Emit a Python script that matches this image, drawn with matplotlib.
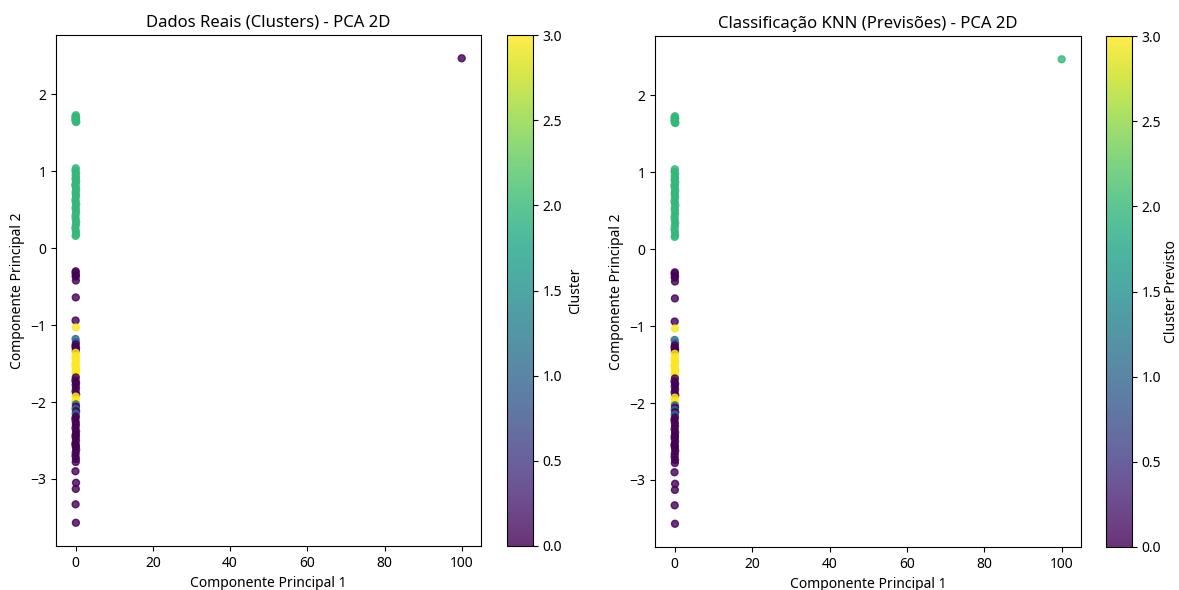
import numpy as np
import matplotlib
matplotlib.use("Agg")
import matplotlib.pyplot as plt

plt.rcParams['font.family'] = ['Noto Sans', 'DejaVu Sans']

# PCA projection of the samples (component 1, component 2)
pc1 = [
    0.05, -0.08, 0.12, 0.02, -0.05, 0.09, 0.0, 0.15,
    0.03, -0.06, 0.1, 0.0, 0.07, -0.04, 0.13, 0.02, -0.09, 0.06, 0.11, -0.02,
    0.04, 0.08, -0.07, 0.01, 0.14, -0.03, 0.05, 0.09, -0.05, 0.0, 0.12, 0.03,
    -0.08, 0.06, 0.1, -0.01,
    0.02, -0.04, 0.07, 0.0, 0.05, 0.03, -0.02,
    0.06,
    -0.03, 0.08,
    0.01, -0.06, 0.09, 0.04,
    0.0, 0.07, -0.05, 0.11, 0.02, -0.08, 0.05, 0.13, -0.02, 0.06,
    0.03, -0.07, 0.1, 0.0, 0.08, -0.04, 0.12,
    0.01, 0.09, -0.06, 0.04,
    0.07, -0.03, 0.11, 0.0, 0.05, -0.09, 0.02,
    0.06, -0.05, 0.1, 0.03, -0.01, 0.08, -0.07, 0.04, 0.12, 0.0, -0.04,
    0.07, 0.02, -0.06, 0.09,
    0.03, -0.02, 0.05, 0.01, 0.0,
    100.0,
]
pc2 = [
    1.73, 1.71, 1.70, 1.68, 1.67, 1.66, 1.65, 1.64,
    1.04, 1.01, 0.98, 0.95, 0.92, 0.90, 0.87, 0.84, 0.82, 0.79, 0.76, 0.73,
    0.70, 0.67, 0.63, 0.60, 0.57, 0.53, 0.50, 0.46, 0.42, 0.38, 0.34, 0.30,
    0.26, 0.22, 0.18, 0.16,
    -0.30, -0.32, -0.35, -0.37, -0.42, -0.64, -0.94,
    -1.03,
    -1.18, -1.22,
    -1.25, -1.28, -1.30, -1.33,
    -1.36, -1.40, -1.43, -1.46, -1.49, -1.52, -1.55, -1.58, -1.61, -1.64,
    -1.68, -1.72, -1.75, -1.78, -1.82, -1.86, -1.90,
    -1.93, -1.97, -2.00, -2.03,
    -2.06, -2.09, -2.12, -2.15, -2.19, -2.22, -2.26,
    -2.30, -2.34, -2.38, -2.42, -2.46, -2.50, -2.54, -2.58, -2.62, -2.66, -2.70,
    -2.74, -2.78, -2.90, -3.05,
    -3.13, -3.33, -3.57, -2.44, -2.56,
    2.47,
]

# cluster labels from the clustering step
cluster_real = [
    2, 2, 2, 2, 2, 2, 2, 2,
    2, 2, 2, 2, 2, 2, 2, 2, 2, 2, 2, 2,
    2, 2, 2, 2, 2, 2, 2, 2, 2, 2, 2, 2,
    2, 2, 2, 2,
    0, 0, 0, 0, 0, 0, 0,
    3,
    1, 1,
    0, 0, 0, 0,
    3, 3, 3, 3, 3, 3, 3, 3, 3, 3,
    0, 0, 0, 0, 0, 0, 0,
    3, 3, 3, 1,
    0, 1, 0, 1, 0, 0, 0,
    0, 0, 0, 0, 0, 0, 0, 0, 0, 0, 0,
    0, 0, 0, 0,
    0, 0, 0, 0, 0,
    0,
]

# labels predicted by the KNN classifier
cluster_pred = [
    2, 2, 2, 2, 2, 2, 2, 2,
    2, 2, 2, 2, 2, 2, 2, 2, 2, 2, 2, 2,
    2, 2, 2, 2, 2, 2, 2, 2, 2, 2, 2, 2,
    2, 2, 2, 2,
    0, 0, 0, 0, 0, 0, 0,
    3,
    1, 1,
    0, 0, 0, 0,
    3, 3, 3, 3, 3, 3, 3, 3, 3, 3,
    0, 0, 0, 0, 0, 0, 0,
    3, 3, 3, 1,
    0, 1, 0, 1, 0, 0, 0,
    0, 0, 0, 0, 0, 0, 0, 0, 0, 0, 0,
    0, 0, 0, 0,
    0, 0, 0, 0, 0,
    2,
]

fig = plt.figure(figsize=(11.79, 5.90), dpi=100)

ax1 = fig.add_axes([0.0475, 0.0746, 0.3605, 0.866])
cax1 = fig.add_axes([0.4300, 0.0746, 0.0221, 0.866])
ax2 = fig.add_axes([0.5556, 0.0729, 0.3613, 0.866])
cax2 = fig.add_axes([0.9380, 0.0729, 0.0221, 0.866])

sc1 = ax1.scatter(pc1, pc2, c=cluster_real, cmap='viridis', s=25, alpha=0.8)
ax1.set_title('Dados Reais (Clusters) - PCA 2D')
ax1.set_xlabel('Componente Principal 1')
ax1.set_ylabel('Componente Principal 2')
cb1 = fig.colorbar(sc1, cax=cax1)
cb1.set_label('Cluster')

sc2 = ax2.scatter(pc1, pc2, c=cluster_pred, cmap='viridis', s=25, alpha=0.8)
ax2.set_title('Classificação KNN (Previsões) - PCA 2D')
ax2.set_xlabel('Componente Principal 1')
ax2.set_ylabel('Componente Principal 2')
cb2 = fig.colorbar(sc2, cax=cax2)
cb2.set_label('Cluster Previsto', labelpad=2)

fig.savefig('out.png', dpi=100)
